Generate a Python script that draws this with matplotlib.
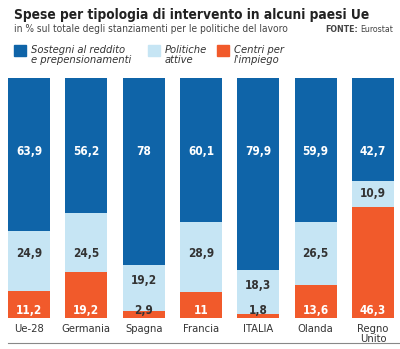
import matplotlib
matplotlib.use('Agg')
from matplotlib import pyplot as plt
import numpy as np

paesi = ['Ue-28', 'Germania', 'Spagna', 'Francia', 'ITALIA', 'Olanda', 'Regno\nUnito']
sostegni = [63.9, 56.2, 78, 60.1, 79.9, 59.9, 42.7]
politiche = [24.9, 24.5, 19.2, 28.9, 18.3, 26.5, 10.9]
centri = [11.2, 19.2, 2.9, 11, 1.8, 13.6, 46.3]
serie = ['Sostegni al reddito\ne prepensionamenti', 'Politiche\nattive', 'Centri per\nl\'impiego']

blu = '#0f64a8'
azzurro = '#c6e5f4'
arancio = '#f15a2b'
scuro = '#333333'

plt.rcParams['font.family'] = ['DejaVu Sans']
plt.rcParams['font.stretch'] = 'condensed'

fig = plt.figure(figsize=(4, 3.49), dpi=100)
ax = fig.add_axes([0.02, 0.0888, 0.965, 0.6877])

x = np.arange(len(paesi))
w = 0.73
c = np.array(centri)
p = np.array(politiche)
s = np.array(sostegni)
ax.bar(x, c, w, color=arancio)
ax.bar(x, p, w, bottom=c, color=azzurro)
ax.bar(x, s, w, bottom=c + p, color=blu)
ax.set_xlim(-0.366, 6.366)
ax.set_ylim(0, 100)
ax.axis('off')

fmt = lambda v: ('%g' % v).replace('.', ',')
for i in x:
    ax.text(i, 69.2, fmt(s[i]), ha='center', va='center', color='white',
            fontsize=8.5, fontweight='bold')
    if c[i] > 25:
        yp = c[i] + p[i] / 2
    else:
        yp = min(26.7, c[i] + p[i] - 6.5)
    ax.text(i, yp, fmt(p[i]), ha='center', va='center', color=scuro,
            fontsize=8.5, fontweight='bold')
    col = 'white' if c[i] > 5 else scuro
    ax.text(i, 3.3, fmt(c[i]), ha='center', va='center', color=col,
            fontsize=8.5, fontweight='bold')
    ax.text(i, -2.3, paesi[i], ha='center', va='top', color=scuro,
            fontsize=8, linespacing=1.0)

fig.text(0.035, 0.958, 'Spese per tipologia di intervento in alcuni paesi Ue',
         fontsize=9.9, fontweight='bold', color='#222222', va='center')
fig.text(0.035, 0.916, 'in % sul totale degli stanziamenti per le politiche del lavoro',
         fontsize=7.3, color='#444444', va='center')
fig.text(0.9, 0.916, 'Eurostat', fontsize=6.3, color='#444444', va='center', ha='left')
fig.text(0.895, 0.916, 'FONTE:', fontsize=6.3, fontweight='bold', color='#444444',
         va='center', ha='right')

leg_x = [0.035, 0.37, 0.542]
leg_c = [blu, azzurro, arancio]
for lx, lc, lt in zip(leg_x, leg_c, serie):
    fig.patches.append(plt.Rectangle((lx, 0.84), 0.03, 0.03, color=lc,
                                     transform=fig.transFigure, figure=fig))
    fig.text(lx + 0.042, 0.87, lt, fontsize=8, style='italic', color=scuro,
             va='top', linespacing=0.95)

fig.add_artist(plt.Line2D([0.02, 1.0], [0.017, 0.017], color='#888888', lw=0.8))

fig.savefig('out.png', dpi=100)
